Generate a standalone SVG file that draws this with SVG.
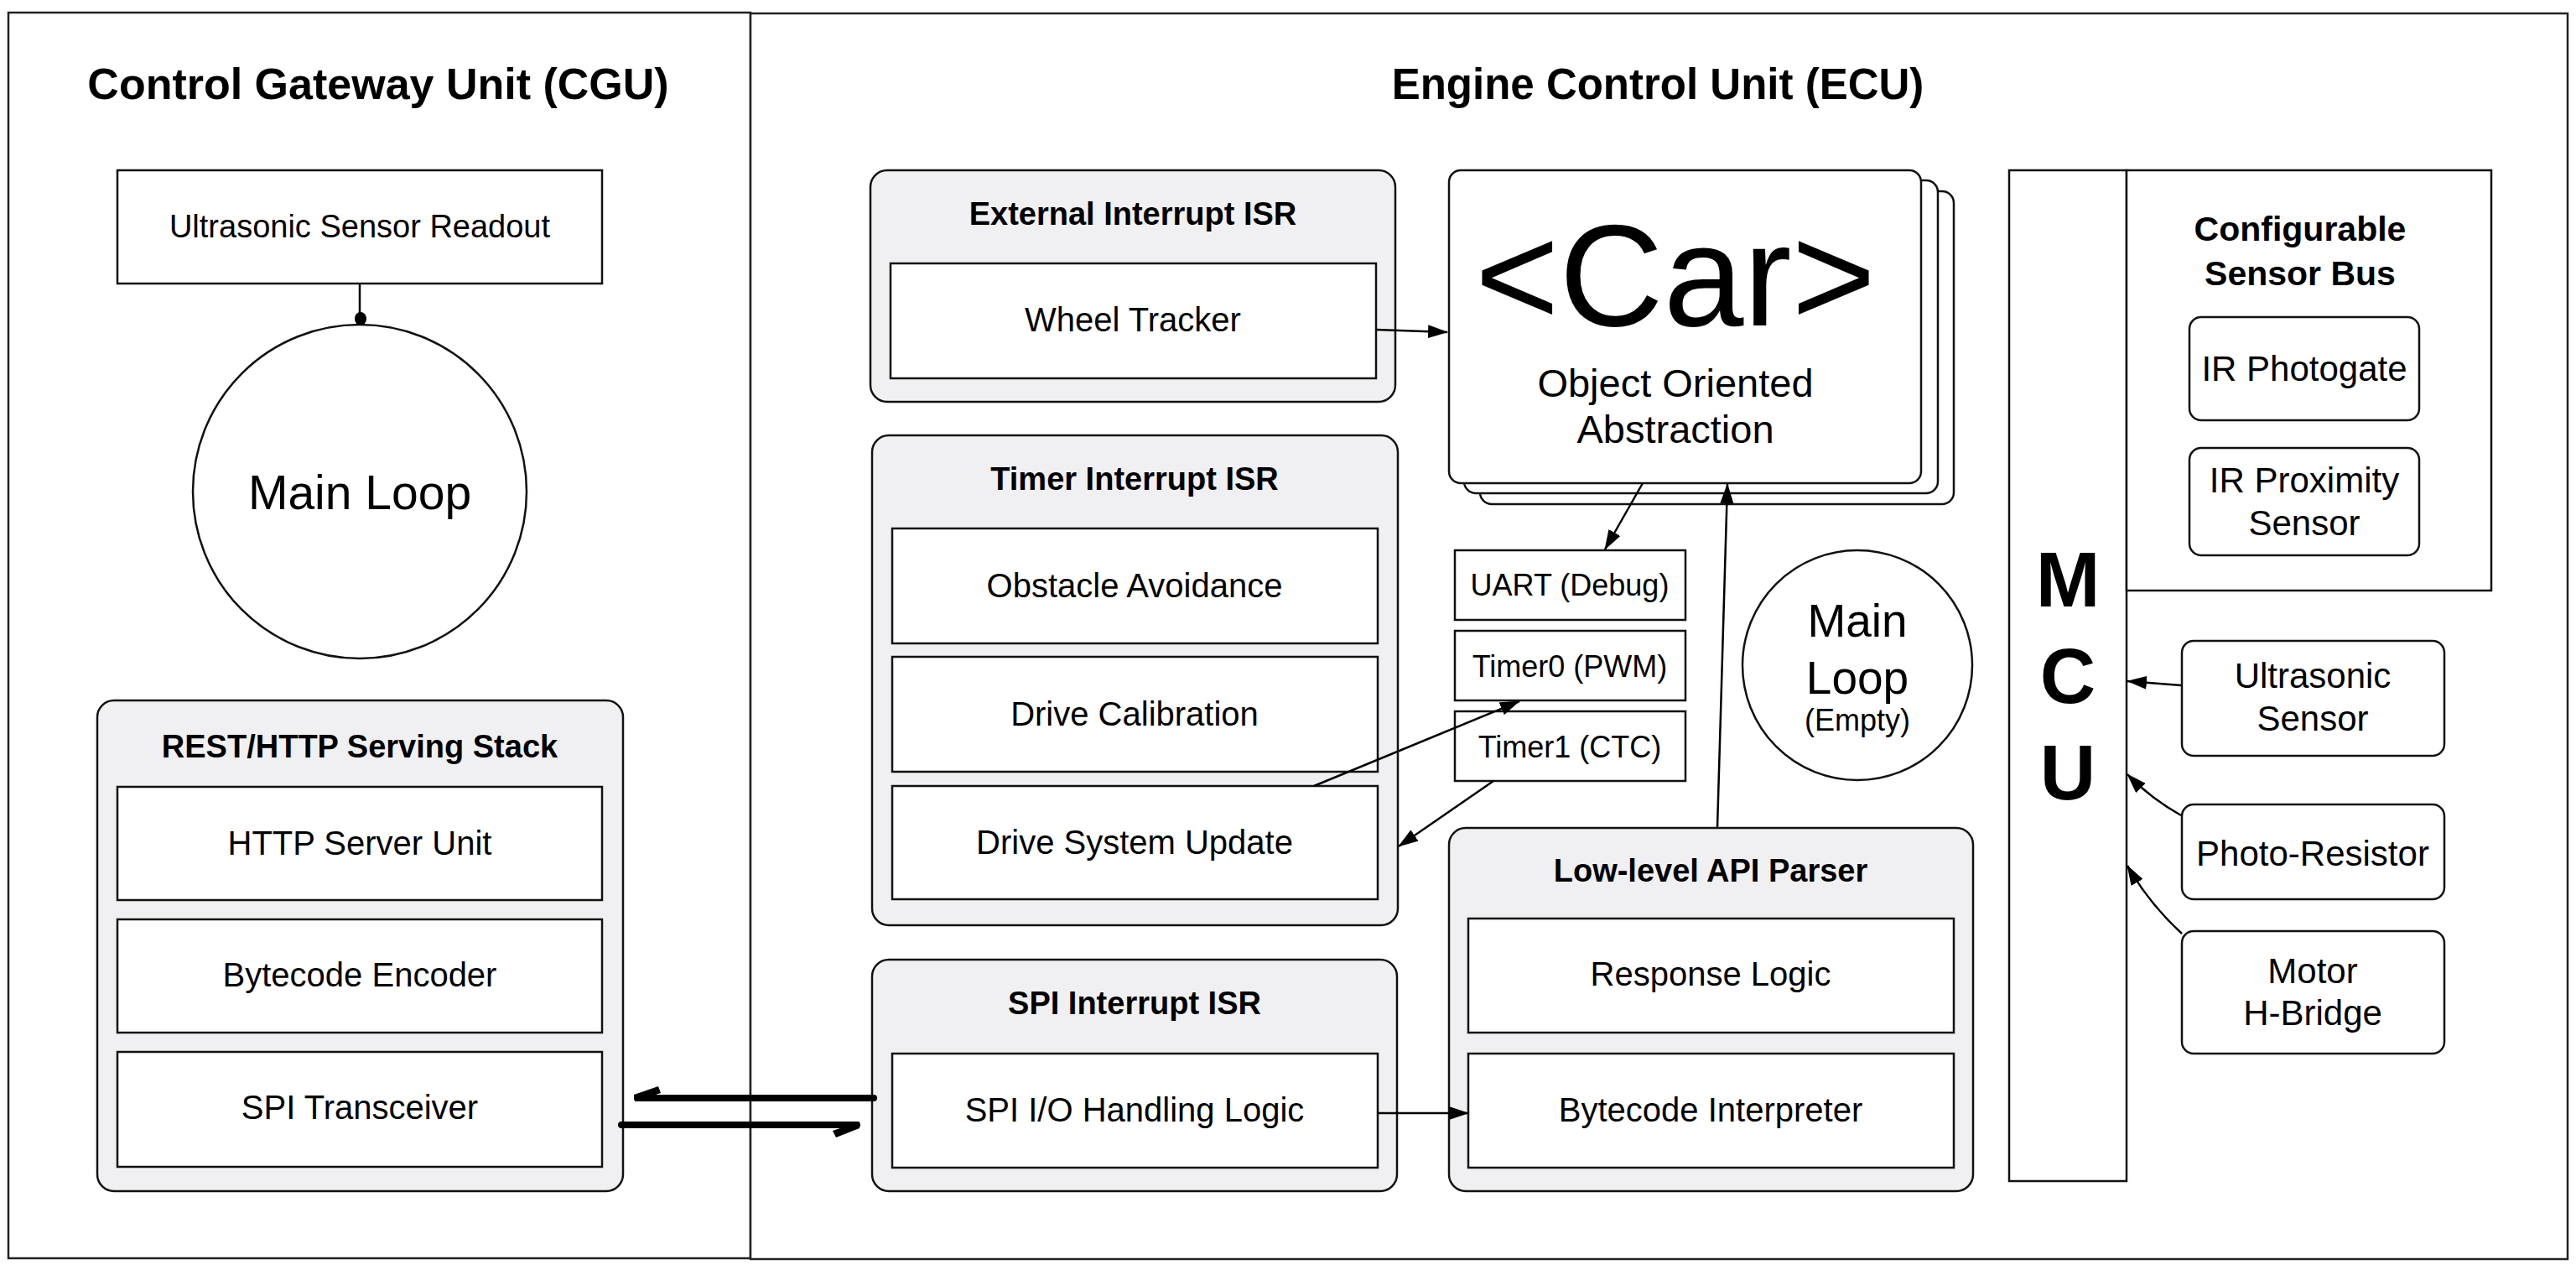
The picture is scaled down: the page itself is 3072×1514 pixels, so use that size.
<svg xmlns="http://www.w3.org/2000/svg" width="3072" height="1514" viewBox="0 0 3072 1514">
<defs>
<marker id="arr" viewBox="0 0 24 16" refX="23" refY="8" markerWidth="24" markerHeight="16" markerUnits="userSpaceOnUse" orient="auto">
<path d="M0,0 L24,8 L0,16 Z" fill="#000"/>
</marker>
</defs>
<style>
text{font-family:"Liberation Sans",Arial,Helvetica,sans-serif;fill:#000;text-anchor:middle}
.t{font-size:40px}
.b{font-size:38px;font-weight:bold}
.h{font-size:52px;font-weight:bold}
.s{font-size:42px}
.outer{fill:#fff;stroke:#222;stroke-width:2.5}
.grp{fill:#f0f0f2;stroke:#111;stroke-width:2.5}
.box{fill:#fff;stroke:#111;stroke-width:2.5}
.con{fill:none;stroke:#000;stroke-width:2.5}
</style>
<rect width="3072" height="1514" fill="#fff"/>
<g id="cgu">
<rect class="outer" x="10" y="15" width="885" height="1485"/>
<text class="h" x="451" y="118">Control Gateway Unit (CGU)</text>
</g>
<g id="ecu">
<rect class="outer" x="895" y="16" width="2167" height="1485"/>
<text class="h" x="1977" y="118" style="font-size:51px">Engine Control Unit (ECU)</text>
</g>
<g id="readout">
<rect class="box" x="140" y="203" width="578" height="135"/>
<text x="429" y="283" style="font-size:38px">Ultrasonic Sensor Readout</text>
</g>
<g id="cgu-main-loop">
<circle class="box" cx="429" cy="586" r="199"/>
<text x="429" y="607" style="font-size:57px">Main Loop</text>
</g>
<g id="rest-stack">
<rect class="grp" x="116" y="835" width="627" height="585" rx="20"/>
<text class="b" x="429" y="903">REST/HTTP Serving Stack</text>
</g>
<g id="http-server">
<rect class="box" x="140" y="938" width="578" height="135"/>
<text class="t" x="429" y="1019">HTTP Server Unit</text>
</g>
<g id="bytecode-encoder">
<rect class="box" x="140" y="1096" width="578" height="135"/>
<text class="t" x="429" y="1176">Bytecode Encoder</text>
</g>
<g id="spi-transceiver">
<rect class="box" x="140" y="1254" width="578" height="137"/>
<text class="t" x="429" y="1334">SPI Transceiver</text>
</g>
<g id="ext-isr">
<rect class="grp" x="1038" y="203" width="626" height="276" rx="20"/>
<text class="b" x="1351" y="268">External Interrupt ISR</text>
</g>
<g id="wheel-tracker">
<rect class="box" x="1062" y="314" width="579" height="137"/>
<text class="t" x="1351" y="395">Wheel Tracker</text>
</g>
<g id="timer-isr">
<rect class="grp" x="1040" y="519" width="627" height="584" rx="20"/>
<text class="b" x="1353" y="584">Timer Interrupt ISR</text>
</g>
<g id="obstacle">
<rect class="box" x="1064" y="630" width="579" height="137"/>
<text class="t" x="1353" y="712">Obstacle Avoidance</text>
</g>
<g id="drive-cal">
<rect class="box" x="1064" y="783" width="579" height="137"/>
<text class="t" x="1353" y="865">Drive Calibration</text>
</g>
<g id="drive-update">
<rect class="box" x="1064" y="937" width="579" height="135"/>
<text class="t" x="1353" y="1018">Drive System Update</text>
</g>
<g id="spi-isr">
<rect class="grp" x="1040" y="1144" width="626" height="276" rx="20"/>
<text class="b" x="1353" y="1209">SPI Interrupt ISR</text>
</g>
<g id="spi-io">
<rect class="box" x="1064" y="1256" width="579" height="136"/>
<text class="t" x="1353" y="1337">SPI I/O Handling Logic</text>
</g>
<g id="car">
<rect class="box" x="1765" y="228" width="565" height="373" rx="14"/>
<rect class="box" x="1746" y="215" width="565" height="373" rx="14"/>
<rect class="box" x="1728" y="203" width="563" height="373" rx="14"/>
<text x="1998" y="388" style="font-size:172px">&lt;Car&gt;</text>
<text x="1998" y="473" style="font-size:47px">Object Oriented</text>
<text x="1998" y="528" style="font-size:47px">Abstraction</text>
</g>
<g id="uart">
<rect class="box" x="1735" y="656" width="275" height="83"/>
<text x="1872" y="710" style="font-size:36px">UART (Debug)</text>
</g>
<g id="timer0">
<rect class="box" x="1735" y="752" width="275" height="83"/>
<text x="1872" y="807" style="font-size:36px">Timer0 (PWM)</text>
</g>
<g id="timer1">
<rect class="box" x="1735" y="848" width="275" height="83"/>
<text x="1872" y="903" style="font-size:36px">Timer1 (CTC)</text>
</g>
<g id="ecu-main-loop">
<circle class="box" cx="2215" cy="793" r="137"/>
<text x="2215" y="759" style="font-size:55px">Main</text>
<text x="2215" y="827" style="font-size:55px">Loop</text>
<text x="2215" y="871" style="font-size:36px">(Empty)</text>
</g>
<g id="api-parser">
<rect class="grp" x="1728" y="987" width="625" height="433" rx="20"/>
<text class="b" x="2040" y="1051">Low-level API Parser</text>
</g>
<g id="response-logic">
<rect class="box" x="1751" y="1095" width="579" height="136"/>
<text class="t" x="2040" y="1175">Response Logic</text>
</g>
<g id="bytecode-interpreter">
<rect class="box" x="1751" y="1256" width="579" height="136"/>
<text class="t" x="2040" y="1337">Bytecode Interpreter</text>
</g>
<g id="mcu">
<rect class="box" x="2396" y="203" width="140" height="1205"/>
<text x="2466" y="723" style="font-size:92px;font-weight:bold">M</text>
<text x="2466" y="838" style="font-size:92px;font-weight:bold">C</text>
<text x="2466" y="953" style="font-size:92px;font-weight:bold">U</text>
</g>
<g id="sensor-bus">
<rect class="box" x="2536" y="203" width="435" height="501"/>
<text x="2743" y="287" style="font-size:41px;font-weight:bold">Configurable</text>
<text x="2743" y="340" style="font-size:41px;font-weight:bold">Sensor Bus</text>
</g>
<g id="ir-photogate">
<rect class="box" x="2611" y="378" width="274" height="123" rx="14"/>
<text class="s" x="2748" y="454">IR Photogate</text>
</g>
<g id="ir-proximity">
<rect class="box" x="2611" y="534" width="274" height="128" rx="14"/>
<text class="s" x="2748" y="587">IR Proximity</text>
<text class="s" x="2748" y="638">Sensor</text>
</g>
<g id="ultrasonic">
<rect class="box" x="2602" y="764" width="313" height="137" rx="14"/>
<text class="s" x="2758" y="820">Ultrasonic</text>
<text class="s" x="2758" y="871">Sensor</text>
</g>
<g id="photo-resistor">
<rect class="box" x="2602" y="959" width="313" height="113" rx="14"/>
<text class="s" x="2758" y="1032">Photo-Resistor</text>
</g>
<g id="motor">
<rect class="box" x="2602" y="1110" width="313" height="146" rx="14"/>
<text class="s" x="2758" y="1172">Motor</text>
<text class="s" x="2758" y="1222">H-Bridge</text>
</g>
<g id="connectors">
<line class="con" x1="429" y1="338" x2="429" y2="380"/>
<ellipse cx="430" cy="380" rx="7" ry="8" fill="#000"/>
<line x1="1042" y1="1309" x2="760" y2="1309" stroke="#000" stroke-width="8" stroke-linecap="round"/>
<polygon points="756,1305 785,1295 788,1303 757,1313" fill="#000"/>
<line x1="741" y1="1341" x2="1022" y2="1341" stroke="#000" stroke-width="8" stroke-linecap="round"/>
<polygon points="1025,1337 1025,1345 997,1356 993,1348" fill="#000"/>
<line class="con" x1="1641" y1="393" x2="1726" y2="396" marker-end="url(#arr)"/>
<line class="con" x1="1959" y1="576" x2="1914" y2="655" marker-end="url(#arr)"/>
<line class="con" x1="1567" y1="937" x2="1812" y2="836" marker-end="url(#arr)"/>
<line class="con" x1="1781" y1="931" x2="1668" y2="1009" marker-end="url(#arr)"/>
<line class="con" x1="1643" y1="1327" x2="1751" y2="1327" marker-end="url(#arr)"/>
<line class="con" x1="2048" y1="987" x2="2060" y2="577" marker-end="url(#arr)"/>
<line class="con" x1="2601" y1="817" x2="2537" y2="812" marker-end="url(#arr)"/>
<path class="con" d="M2601,972 Q2565,952 2537,923" marker-end="url(#arr)"/>
<path class="con" d="M2602,1113 Q2563,1077 2537,1032" marker-end="url(#arr)"/>
</g>
</svg>
